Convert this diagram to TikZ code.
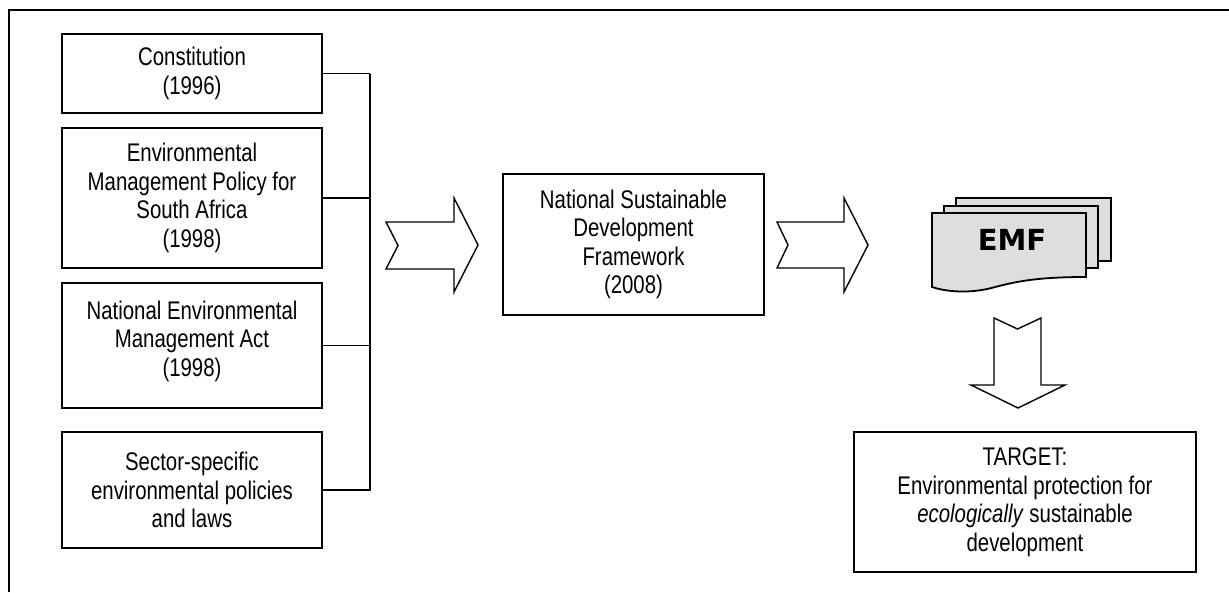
\documentclass[tikz,border=0pt]{standalone}
\usepackage{fontspec}
\setmainfont{Liberation Sans}[FakeStretch=0.8]
\newfontfamily\emffont{DejaVu Sans}
\begin{document}
\begin{tikzpicture}[x=1pt,y=-1pt,
  box/.style={draw, line width=1.8pt, rectangle, align=center, inner sep=0pt,
    font=\fontsize{25.5}{28.5}\selectfont},
  conn/.style={line width=1.8pt},
  bigarrow/.style={draw, line width=1.4pt, fill=white, line join=miter},
  sheet/.style={draw, line width=1.8pt, fill=black!13, line join=miter}]
\useasboundingbox (0,0) rectangle (1229,592);
% outer frame (partly visible)
\draw[line width=2pt] (9,592) -- (9,10) -- (1229,10);

% source boxes
\node[box, minimum width=260, minimum height=79] (b1) at (192,73.5) {Constitution\\(1996)};
\node[box, minimum width=260, minimum height=140] (b2) at (192,198) {Environmental\\Management Policy for\\South Africa\\(1998)};
\node[box, minimum width=260, minimum height=125] (b3) at (192,345.5) {National Environmental\\Management Act\\(1998)\rule[-14pt]{0pt}{14pt}};
\node[box, minimum width=260, minimum height=116] (b4) at (192,490) {Sector-specific\\environmental policies\\and laws};

% bus connector
\draw[conn] (b1.east) -- ++(47,0) coordinate (j1);
\draw[conn] (j1) -- (j1 |- b4.east) -- (b4.east);
\draw[conn] (b2.east) -- (b2.east -| j1);
\draw[conn] (b3.east) -- (b3.east -| j1);

% NSDF
\node[box, minimum width=261, minimum height=141] (nsdf) at (633.5,244.5) {National Sustainable\\Development\\Framework\\(2008)};

% chevron arrows
\draw[bigarrow] (386,222) -- (454,222) -- (454,198) -- (478,245) -- (454,292) -- (454,269) -- (386,269) -- (398,245.5) -- cycle;
\draw[bigarrow] (777,222) -- (844,222) -- (844,198) -- (868,245) -- (844,292) -- (844,268) -- (777,268) -- (788,245) -- cycle;

% EMF document stack
\draw[sheet] (956,198) rectangle (1111,261);
\draw[sheet] (944,206) rectangle (1098,268);
\draw[sheet] (932,213) -- (1086,213) -- (1086,277)
   .. controls (1035,277) and (1015,282) .. (995,287)
   .. controls (975,293) and (950,293) .. (932,287) -- cycle;
\node[font=\emffont\bfseries\fontsize{29}{30}\selectfont, inner sep=0pt] (emf) at (1012,240) {EMF};

% down arrow
\draw[bigarrow] (994,318) -- (1017.5,329) -- (1041,318) -- (1041,385) -- (1065,385) -- (1018,408) -- (971,385) -- (994,385) -- cycle;

% target
\node[box, minimum width=342, minimum height=140] (target) at (1025,502) {TARGET:\\Environmental protection for\\\textit{ecologically} sustainable\\development};
\end{tikzpicture}
\end{document}
